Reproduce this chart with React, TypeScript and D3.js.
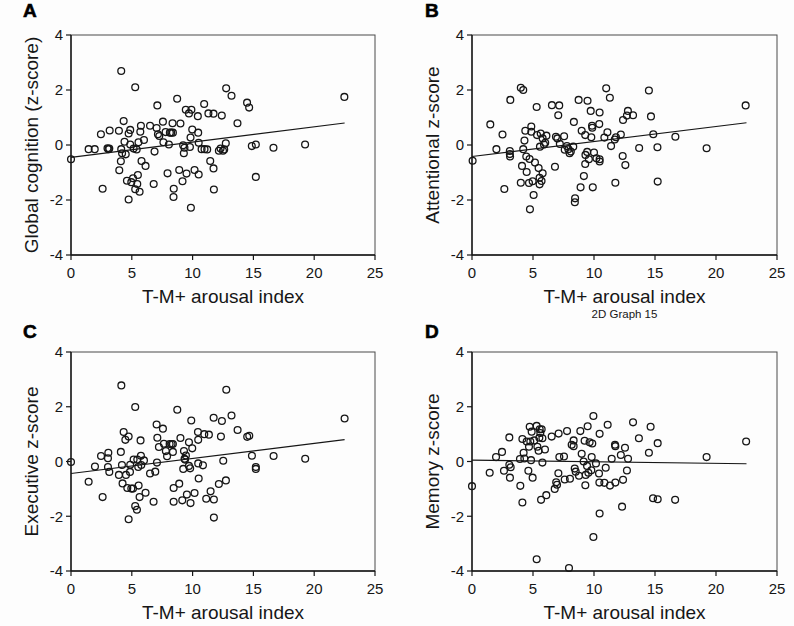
import React from 'react';
import * as d3 from 'd3';

const xTicks = [0, 5, 10, 15, 20, 25];
const yTicks = [-4, -2, 0, 2, 4];
const panelLetters = ['A', 'B', 'C', 'D'];
const yTitles = ['Global cognition (z-score)', 'Attentional z-score', 'Executive z-score', 'Memory z-score'];
const xTitle = 'T-M+ arousal index';
const graphNote = '2D Graph 15';

const globalPts: [number, number][] = [
  [0, -0.52], [1.45, -0.15], [1.95, -0.15], [2.46, 0.39], [2.6, -1.59], [3.0, -0.12], [3.08, -0.15], [3.15, -0.13],
  [3.18, 0.53], [3.94, 0.52], [3.97, -0.92], [4.1, -0.59], [4.13, 2.69], [4.13, -0.15], [4.2, -0.3], [4.33, 0.87],
  [4.4, 0.12], [4.5, -0.34], [4.6, -1.3], [4.74, -1.98], [4.74, 0.42], [4.87, 0.55], [4.87, 0.02], [4.96, -1.35],
  [5.1, -1.21], [5.15, -0.13], [5.28, 2.1], [5.28, -1.61], [5.4, -0.16], [5.45, -1.42], [5.5, -1.09], [5.55, 0.1],
  [5.64, -1.7], [5.7, 0.48], [5.75, 0.7], [5.8, -0.58], [6.0, 0.18], [6.13, -0.76], [6.5, 0.7], [6.8, -1.42],
  [6.87, -0.24], [7.04, 0.62], [7.1, 1.44], [7.15, 0.39], [7.26, 0.33], [7.56, 0.85], [7.6, 0.1], [7.78, 0.47],
  [7.94, -1.03], [8.05, 0.02], [8.13, 0.45], [8.24, 0.45], [8.35, 0.79], [8.38, 0.45], [8.45, -1.59], [8.43, -1.89],
  [8.73, 1.68], [8.9, -0.91], [9.0, 0.78], [9.17, -1.32], [9.22, -0.01], [9.28, -0.3], [9.33, -0.1], [9.44, 1.28],
  [9.5, -1.04], [9.7, 1.15], [9.78, -0.07], [9.83, 0.27], [9.86, -2.28], [9.9, 1.28], [9.97, 0.56], [10.16, -0.91],
  [10.43, 1.05], [10.46, 0.45], [10.5, 0.08], [10.5, -1.07], [10.74, -0.15], [10.95, 1.49], [10.98, -0.15], [11.2, -0.16],
  [11.3, 1.15], [11.45, -0.58], [11.72, 1.14], [11.72, -0.85], [11.75, -1.62], [12.16, -0.21], [12.3, -0.13], [12.4, 1.07],
  [12.5, -0.21], [12.6, -0.16], [12.73, 0.06], [12.76, 2.06], [13.2, 1.79], [13.69, 0.79], [14.48, 1.54], [14.65, 1.36],
  [14.87, -0.04], [15.2, 0.02], [15.2, -1.16], [16.65, -0.1], [19.25, 0.02], [22.48, 1.75],
];

const attentionalPts: [number, number][] = [
  [0.05, -0.57], [1.5, 0.75], [2.0, -0.15], [2.5, 0.38], [2.65, -1.6], [3.14, 1.64], [3.1, -0.22], [3.1, -0.33],
  [3.12, -0.42], [4.0, 2.08], [4.2, 2.0], [4.1, -0.76], [4.0, -1.37], [4.2, -0.15], [4.3, 0.16], [4.37, 0.52],
  [4.45, -0.42], [4.48, -0.98], [4.67, -1.38], [4.72, -0.51], [4.75, -2.34], [4.86, 0.67], [4.86, 0.48], [4.97, -1.32],
  [5.05, -1.82], [5.16, -0.64], [5.3, 1.38], [5.33, 0.36], [5.46, -0.84], [5.54, -1.19], [5.54, -1.43], [5.57, -0.06],
  [5.63, 0.42], [5.7, -1.31], [5.79, -1.03], [5.79, 0.24], [5.9, 0.02], [6.0, 0.08], [6.1, 0.34], [6.55, 1.45],
  [6.8, -0.79], [6.88, 0.3], [7.0, 0.24], [7.15, 1.44], [7.07, 1.08], [7.2, 0.04], [7.55, 0.32], [7.6, -0.17],
  [7.78, -0.04], [7.9, -0.15], [8.0, -0.3], [8.1, -0.24], [8.3, -0.06], [8.35, 0.84], [8.45, -1.94], [8.43, -2.08],
  [8.74, 1.64], [8.9, -1.54], [8.99, 0.52], [9.17, -1.13], [9.28, -0.69], [9.28, 0.36], [9.3, -0.36], [9.44, -0.25],
  [9.47, 1.61], [9.58, -0.52], [9.73, 1.24], [9.78, 0.28], [9.84, 0.7], [9.86, 0.63], [9.9, -1.54], [10.0, -0.27],
  [10.2, -0.48], [10.43, 0.76], [10.46, 1.18], [10.46, -0.52], [10.46, -0.6], [10.85, 0.27], [11.0, 2.06], [11.1, 0.46],
  [11.3, 1.72], [11.4, -0.04], [11.7, 0.2], [11.75, -1.37], [11.8, 0.28], [12.2, 0.38], [12.35, -0.4], [12.38, 0.91],
  [12.57, -0.73], [12.7, 1.07], [12.78, 1.24], [13.2, 1.08], [13.7, -0.11], [14.5, 1.98], [14.67, 1.04], [14.86, 0.39],
  [15.2, -0.08], [15.22, -1.33], [16.67, 0.3], [19.23, -0.12], [22.43, 1.44],
];

const executivePts: [number, number][] = [
  [0, -0.02], [1.45, -0.74], [1.97, -0.18], [2.47, 0.2], [2.6, -1.3], [3.07, 0.32], [3.04, 0.12], [3.04, -0.2],
  [3.15, -0.38], [3.94, -0.49], [4.1, 0.35], [4.14, 2.78], [4.19, -0.13], [4.24, -0.8], [4.33, 1.08], [4.47, 0.79],
  [4.52, -0.49], [4.63, -0.97], [4.74, 0.91], [4.74, -2.11], [4.85, -0.38], [4.87, -0.12], [4.96, -0.99], [5.1, -0.99],
  [5.15, 0.07], [5.28, 1.99], [5.28, -1.63], [5.42, -1.76], [5.45, 0.07], [5.53, -0.2], [5.56, -0.88], [5.64, -1.3],
  [5.72, 0.77], [5.75, 0.21], [5.78, -0.13], [6.0, 0.04], [6.13, -1.14], [6.5, -0.44], [6.79, -1.47], [6.93, -0.37],
  [7.04, 1.35], [7.07, -0.04], [7.1, 0.87], [7.23, 0.53], [7.56, 1.2], [7.64, 0.65], [7.8, 0.38], [7.9, 0.19],
  [8.11, 0.64], [8.27, 0.64], [8.38, 0.64], [8.38, 0.35], [8.44, -0.97], [8.44, -1.47], [8.74, 1.89], [8.9, -0.81],
  [9.0, 0.86], [9.15, -1.42], [9.23, -0.27], [9.29, 0.38], [9.34, 0.1], [9.38, 0.07], [9.45, 0.22], [9.53, -1.21],
  [9.7, 0.7], [9.7, -0.16], [9.8, -0.25], [9.83, -1.52], [9.89, 1.5], [9.97, 0.48], [10.16, -1.15], [10.44, 1.08],
  [10.46, 0.79], [10.46, -0.07], [10.5, -0.62], [10.85, -0.14], [10.96, 1.0], [11.12, -1.36], [11.34, 0.98], [11.48, -1.09],
  [11.73, 1.6], [11.75, -1.39], [11.75, -2.05], [12.16, -0.82], [12.33, 0.91], [12.41, 1.48], [12.52, 0.03], [12.74, -0.69],
  [12.77, 2.62], [13.2, 1.68], [13.7, 1.15], [14.49, 0.9], [14.66, 0.94], [14.88, 0.21], [15.2, -0.2], [15.2, -0.27],
  [16.66, 0.2], [19.26, 0.1], [22.5, 1.57],
];

const memoryPts: [number, number][] = [
  [0, -0.9], [1.45, -0.41], [1.97, 0.16], [2.46, 0.35], [2.62, -0.34], [3.06, 0.88], [3.06, -0.12], [3.17, -0.21],
  [3.11, -0.59], [3.96, -0.89], [3.93, 0.09], [4.13, -1.5], [4.13, 0.82], [4.23, 0.32], [4.29, 0.11], [4.48, 0.73],
  [4.62, -0.34], [4.67, 0.54], [4.73, 1.27], [4.78, 0.73], [4.84, 0.05], [4.89, 1.09], [4.97, -0.59], [5.1, 0.77],
  [5.3, 1.3], [5.3, -3.57], [5.36, 0.54], [5.46, 0.39], [5.52, 0.87], [5.55, 1.18], [5.6, 1.04], [5.66, -1.4],
  [5.71, 1.18], [5.77, 0.85], [5.77, -0.04], [5.98, 0.44], [6.09, -1.23], [6.53, 0.91], [6.78, -1.0], [6.9, -0.76],
  [6.97, -0.85], [7.08, -0.43], [7.1, 1.02], [7.16, 0.16], [7.54, 0.18], [7.6, -0.66], [7.79, 1.11], [7.95, -3.89],
  [8.03, -0.63], [8.17, 0.61], [8.33, 0.77], [8.33, 0.56], [8.42, -0.26], [8.5, -0.37], [8.77, -0.52], [8.88, 1.11],
  [8.99, 0.28], [9.15, 0.0], [9.23, 0.76], [9.29, -0.87], [9.32, -0.49], [9.43, -0.16], [9.48, 1.29], [9.54, -0.41],
  [9.64, 0.7], [9.78, -0.32], [9.81, 0.16], [9.86, 0.66], [9.95, 1.66], [9.95, -2.76], [10.16, -0.07], [10.41, -0.44],
  [10.44, -0.77], [10.46, 1.01], [10.46, -1.9], [10.85, -0.78], [10.96, -0.23], [11.12, 1.34], [11.31, -0.88], [11.45, 0.1],
  [11.72, 0.61], [11.75, 0.56], [11.75, -0.77], [12.2, 0.24], [12.3, -1.65], [12.38, -0.67], [12.54, 0.5], [12.7, -0.33],
  [12.79, 0.1], [13.2, 1.43], [13.68, 0.85], [14.5, 0.32], [14.64, 1.27], [14.84, -1.34], [15.22, 0.67], [15.22, -1.38],
  [16.65, -1.4], [19.23, 0.16], [22.47, 0.73],
];

const fitXRange = [0, 22.5];
const fitStart = [-0.45, -0.42, -0.44, 0.05];
const fitEnd = [0.8, 0.81, 0.8, -0.08];

const panelData = [globalPts, attentionalPts, executivePts, memoryPts];

const layouts = [
  { left: 71, right: 375, top: 35, bottom: 255, letterX: 23, letterY: 17 },
  { left: 472, right: 777, top: 35, bottom: 255, letterX: 425, letterY: 17 },
  { left: 71, right: 375, top: 352, bottom: 571, letterX: 23, letterY: 338 },
  { left: 472, right: 777, top: 352, bottom: 571, letterX: 425, letterY: 338 },
];

const FONT = "'Liberation Sans', Arial, Helvetica, sans-serif";
const INK = '#161616';

function Panel({ i }: { i: number }) {
  const L = layouts[i];
  const x = d3.scaleLinear().domain([0, 25]).range([L.left, L.right]);
  const y = d3.scaleLinear().domain([-4, 4]).range([L.bottom, L.top]);
  const line = d3.line<[number, number]>().x(d => x(d[0])).y(d => y(d[1]));
  const fitPts: [number, number][] = [[fitXRange[0], fitStart[i]], [fitXRange[1], fitEnd[i]]];
  const cx = (L.left + L.right) / 2;
  const cy = (L.top + L.bottom) / 2;
  return (
    <g>
      <rect x={L.left} y={L.top} width={L.right - L.left} height={L.bottom - L.top}
        fill="none" stroke="#4a4a4a" strokeWidth={1} />
      <line x1={L.left} x2={L.left} y1={L.top} y2={L.bottom} stroke={INK} strokeWidth={1.4} />
      <line x1={L.left} x2={L.right} y1={L.bottom} y2={L.bottom} stroke={INK} strokeWidth={1.4} />
      {yTicks.map(t => (
        <g key={'y' + t}>
          <line x1={L.left - 5} x2={L.left} y1={y(t)} y2={y(t)} stroke={INK} strokeWidth={1.2} />
          <text x={L.left - 8} y={y(t)} dy="0.36em" textAnchor="end" fontSize={15} fill={INK} fontFamily={FONT}>{t}</text>
        </g>
      ))}
      {xTicks.map(t => (
        <g key={'x' + t}>
          <line x1={x(t)} x2={x(t)} y1={L.bottom} y2={L.bottom + 5} stroke={INK} strokeWidth={1.2} />
          <text x={x(t)} y={L.bottom + 23} textAnchor="middle" fontSize={15} fill={INK} fontFamily={FONT}>{t}</text>
        </g>
      ))}
      <path d={line(fitPts) || ''} fill="none" stroke={INK} strokeWidth={1.1} />
      {panelData[i].map((d, k) => (
        <circle key={k} cx={x(d[0])} cy={y(d[1])} r={3.4} fill="none" stroke={INK} strokeWidth={1.3} />
      ))}
      <text x={cx} y={L.bottom + 48} textAnchor="middle" fontSize={19} fill={INK} fontFamily={FONT}>{xTitle}</text>
      <text transform={`translate(${L.left - 33},${cy}) rotate(-90)`} textAnchor="middle" fontSize={19}
        fill={INK} fontFamily={FONT}>{yTitles[i]}</text>
      <text x={L.letterX} y={L.letterY} fontSize={19} fontWeight={900} fill="#000" stroke="#000" strokeWidth={0.6}
        fontFamily={FONT}>{panelLetters[i]}</text>
    </g>
  );
}

export default function App() {
  const L = layouts[3];
  return (
    <svg width={794} height={626} viewBox="0 0 794 626"
      style={{ position: 'absolute', left: 0, top: 0, background: '#fdfdfd' }}>
      <rect x={0} y={0} width={794} height={626} fill="#fdfdfd" />
      {[0, 1, 2, 3].map(i => <Panel key={i} i={i} />)}
      <text x={(L.left + L.right) / 2} y={318} textAnchor="middle" fontSize={11.5} fill={INK} fontFamily={FONT}>{graphNote}</text>
    </svg>
  );
}
